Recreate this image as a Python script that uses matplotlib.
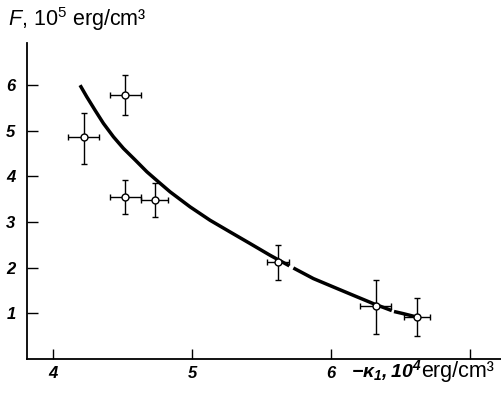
import numpy as np
import matplotlib
matplotlib.use('Agg')
import matplotlib.pyplot as plt

# measured points with error bars
k1 = [4.22, 4.52, 4.52, 4.73, 5.62, 6.32, 6.62]
F = [4.86, 5.78, 3.55, 3.48, 2.12, 1.16, 0.92]
k1_err = [0.11, 0.11, 0.11, 0.10, 0.08, 0.11, 0.095]
F_err_lo = [0.58, 0.44, 0.37, 0.38, 0.38, 0.62, 0.42]
F_err_hi = [0.52, 0.44, 0.37, 0.38, 0.38, 0.58, 0.42]

# fitted curve (drawn in pieces, it is broken twice)
curve_x1 = [4.194, 4.242, 4.302, 4.362, 4.434, 4.506, 4.590, 4.675, 4.758,
            4.842, 4.986, 5.129, 5.273, 5.417, 5.561, 5.700]
curve_y1 = [5.996, 5.743, 5.447, 5.160, 4.866, 4.612, 4.360, 4.099, 3.879,
            3.660, 3.331, 3.039, 2.783, 2.529, 2.272, 2.040]
curve_x2 = [5.729, 5.873, 6.017, 6.160, 6.304, 6.437]
curve_y2 = [1.993, 1.761, 1.577, 1.395, 1.213, 1.060]
curve_x3 = [6.453, 6.520, 6.617]
curve_y3 = [1.040, 0.993, 0.919]

xticks = [4, 5, 6, 7]
xtick_labels = ['4', '5', '6', '']
yticks = [1, 2, 3, 4, 5, 6]

plt.rcParams['mathtext.fontset'] = 'custom'
plt.rcParams['mathtext.it'] = 'Liberation Sans:italic'
plt.rcParams['mathtext.bf'] = 'Liberation Sans:italic:bold'
plt.rcParams['mathtext.rm'] = 'Liberation Sans'

W, H = 501, 394
fig = plt.figure(figsize=(W / 100, H / 100), dpi=100)
ax = fig.add_axes([26.7 / W, 1 - 359 / H, (W - 26.7) / W, (359 - 43) / H])

for cx, cy in [(curve_x1, curve_y1), (curve_x2, curve_y2), (curve_x3, curve_y3)]:
    ax.plot(cx, cy, color='black', lw=2.5, solid_capstyle='butt', zorder=2)

ax.errorbar(k1, F, xerr=k1_err, yerr=[F_err_lo, F_err_hi], fmt='o',
            color='black', mfc='white', mec='black', ms=5, mew=1,
            elinewidth=1, capsize=2.5, capthick=1, zorder=3)

ax.set_xlim(3.81, 7.223)
ax.set_ylim(0, 6.92)

for s in ['top', 'right']:
    ax.spines[s].set_visible(False)
for s in ['left', 'bottom']:
    ax.spines[s].set_linewidth(1.3)

tick_font = dict(family='Liberation Sans', style='italic', weight='bold', size=12)
ax.set_xticks(xticks)
ax.set_xticklabels(xtick_labels, fontdict=tick_font)
ax.set_yticks(yticks)
ax.set_yticklabels([str(v) for v in yticks], fontdict=tick_font)
ax.tick_params(axis='x', direction='in', length=7, width=1, pad=5)
ax.tick_params(axis='y', direction='in', length=8, width=1, pad=8)

fig.text(351 / W, 1 - 377 / H, r'$\mathbf{-\kappa_1,10^4}$', fontsize=14,
         ha='left', va='baseline')
fig.text(421 / W, 1 - 377 / H, 'erg/cm³', family='Liberation Sans', fontsize=15.5,
         ha='left', va='baseline')
fig.text(8 / W, 1 - 26 / H, r'$F$' + ', 10' + r'$^{\mathrm{5}}$' + ' erg/cm³',
         family='Liberation Sans', fontsize=15.5, ha='left', va='baseline')

fig.savefig('out.png', dpi=100)
